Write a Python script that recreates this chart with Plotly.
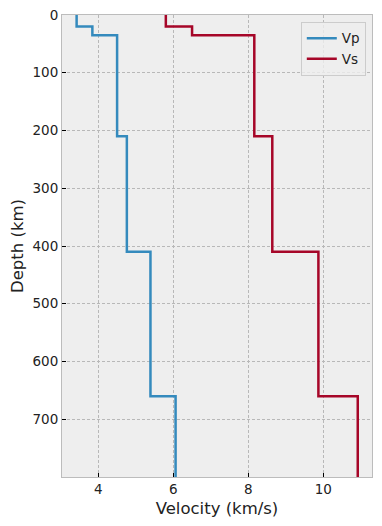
import plotly.graph_objects as go

# Layer model (top depth of each layer, km) and velocities (km/s)
layer_tops = [0, 20, 35, 210, 410, 660]
max_depth = 800
vp = [3.42, 3.84, 4.50, 4.76, 5.39, 6.06]
vs = [5.80, 6.50, 8.16, 8.64, 9.87, 10.92]
x_ticks = [4, 6, 8, 10]
y_ticks = [0, 100, 200, 300, 400, 500, 600, 700]

bottoms = layer_tops[1:] + [max_depth]


def step_xy(vals):
    xs, ys = [], []
    for v, t, b in zip(vals, layer_tops, bottoms):
        xs += [v, v]
        ys += [t, b]
    return xs, ys


fig = go.Figure()
for name, vals, col in [("Vp", vp, "#348ABD"), ("Vs", vs, "#A60628")]:
    xs, ys = step_xy(vals)
    fig.add_trace(go.Scatter(x=xs, y=ys, mode="lines", name=name,
                             line=dict(color=col, width=2.5)))

axis_common = dict(
    showline=True, mirror=True, linecolor="#bcbcbc", linewidth=1,
    showgrid=True, gridcolor="#b8b8b8", gridwidth=0.6, griddash="3px,2px",
    ticks="inside", ticklen=4, tickcolor="black", tickwidth=1,
    zeroline=False, automargin=False, ticklabeloverflow="allow",
    tickfont=dict(family="DejaVu Sans", size=13.5, color="#222"),
)

fig.update_layout(
    width=382, height=526,
    margin=dict(l=62, r=10, t=15, b=49, autoexpand=False),
    paper_bgcolor="white", plot_bgcolor="#EEEEEE",
    font=dict(family="DejaVu Sans", color="#222"),
    xaxis=dict(range=[3.03, 11.3], tickvals=x_ticks,
               title=dict(text="Velocity (km/s)", font=dict(size=16.5), standoff=6),
               **axis_common),
    yaxis=dict(range=[max_depth, 0], tickvals=y_ticks,
               title=dict(text="Depth (km)", font=dict(size=16.5), standoff=4),
               **axis_common),
    legend=dict(x=0.98, y=0.985, xanchor="right", yanchor="top",
                bgcolor="rgba(238,238,238,0.8)", bordercolor="#cccccc", borderwidth=1,
                font=dict(size=13.5, family="DejaVu Sans"), itemwidth=30),
    showlegend=True,
)

# remove the browser's default 8px body margin so the figure fills the window
fig.write_html("out.html", config={"displayModeBar": False},
               post_script="document.body.style.margin='0';")
